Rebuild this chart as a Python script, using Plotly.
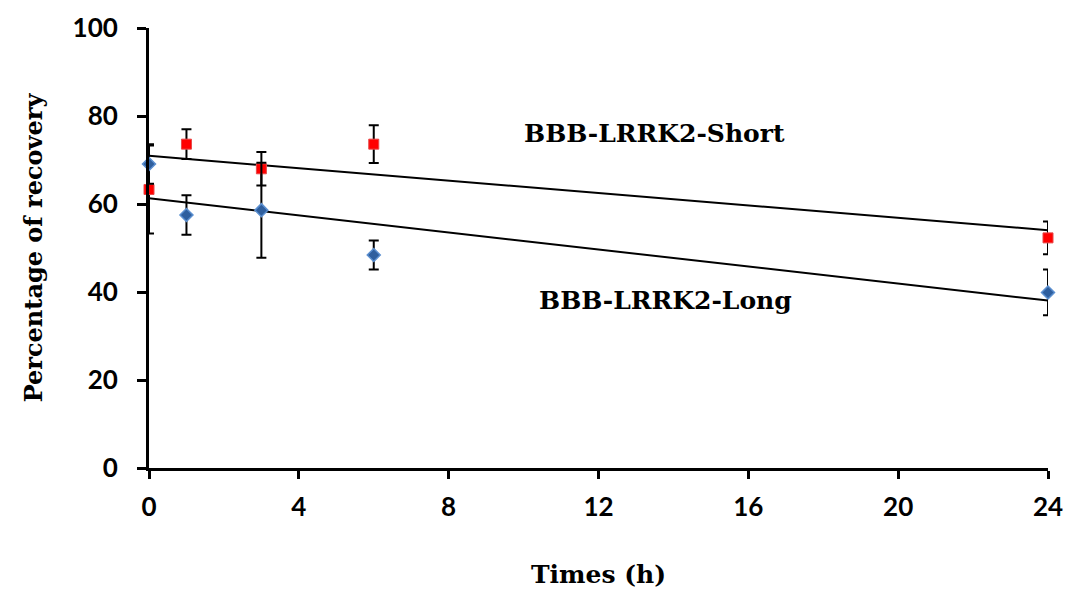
import numpy as np
import plotly.graph_objects as go

times = [0, 1, 3, 6, 24]
short_vals = [63.3, 73.6, 68.0, 73.6, 52.3]
short_err = [10.0, 3.4, 3.8, 4.3, 3.7]
long_vals = [69.1, 57.5, 58.6, 48.4, 39.9]
long_err = [4.5, 4.5, 10.8, 3.3, 5.2]
x_ticks = [0, 4, 8, 12, 16, 20, 24]
y_ticks = [0, 20, 40, 60, 80, 100]

fig = go.Figure()

# linear trendlines (least squares fit of each series)
xr = np.array([min(times), max(times)], dtype=float)
for vals in (short_vals, long_vals):
    m, b = np.polyfit(times, vals, 1)
    fig.add_trace(go.Scatter(x=xr, y=m * xr + b, mode="lines",
                             line=dict(color="black", width=2),
                             showlegend=False, hoverinfo="skip"))

fig.add_trace(go.Scatter(
    x=times, y=short_vals, mode="markers", name="BBB-LRRK2-Short",
    marker=dict(symbol="square", size=10, color="#ff0000",
                line=dict(color="#e84848", width=1)),
    error_y=dict(type="data", array=short_err, visible=True,
                 color="black", thickness=2, width=5),
    cliponaxis=False, showlegend=False))

fig.add_trace(go.Scatter(
    x=times, y=long_vals, mode="markers", name="BBB-LRRK2-Long",
    marker=dict(symbol="diamond", size=10, color="#2f5f9e",
                line=dict(color="#5b8fd0", width=1.5)),
    error_y=dict(type="data", array=long_err, visible=True,
                 color="black", thickness=2, width=5),
    cliponaxis=False, showlegend=False))

serif = "DejaVu Serif"
sans = "Lato"

fig.add_annotation(x=13.5, y=76.1, text="<b>BBB-LRRK2-Short</b>", showarrow=False,
                   font=dict(family=serif, size=25, color="black"))
fig.add_annotation(x=13.8, y=38.0, text="<b>BBB-LRRK2-Long</b>", showarrow=False,
                   font=dict(family=serif, size=25, color="black"))

fig.update_layout(
    width=1082, height=593,
    margin=dict(l=141, r=42, t=20, b=133, autoexpand=False),
    paper_bgcolor="white", plot_bgcolor="white",
)
fig.update_xaxes(
    range=[0, 24], tickvals=x_ticks, ticktext=[str(v) for v in x_ticks],
    automargin=False,
    showgrid=False, zeroline=False, showline=True, linecolor="black", linewidth=3,
    ticks="outside", ticklen=8, tickwidth=3, tickcolor="black",
    tickfont=dict(family=sans, size=26, color="black", weight="bold"),
    ticklabelstandoff=6,
    title=dict(text="<b>Times (h)</b>", font=dict(family=serif, size=25, color="black"),
               standoff=45),
)
fig.update_yaxes(
    range=[0, 100], tickvals=y_ticks, ticktext=[str(v) for v in y_ticks],
    automargin=False,
    showgrid=False, zeroline=False, showline=True, linecolor="black", linewidth=3,
    ticks="outside", ticklen=9, tickwidth=3, tickcolor="black",
    tickfont=dict(family=sans, size=26, color="black", weight="bold"),
    ticklabelstandoff=14,
    title=dict(text="<b>Percentage of recovery</b>", font=dict(family=serif, size=24, color="black"),
               standoff=24),
)

fig.write_html("out.html")
